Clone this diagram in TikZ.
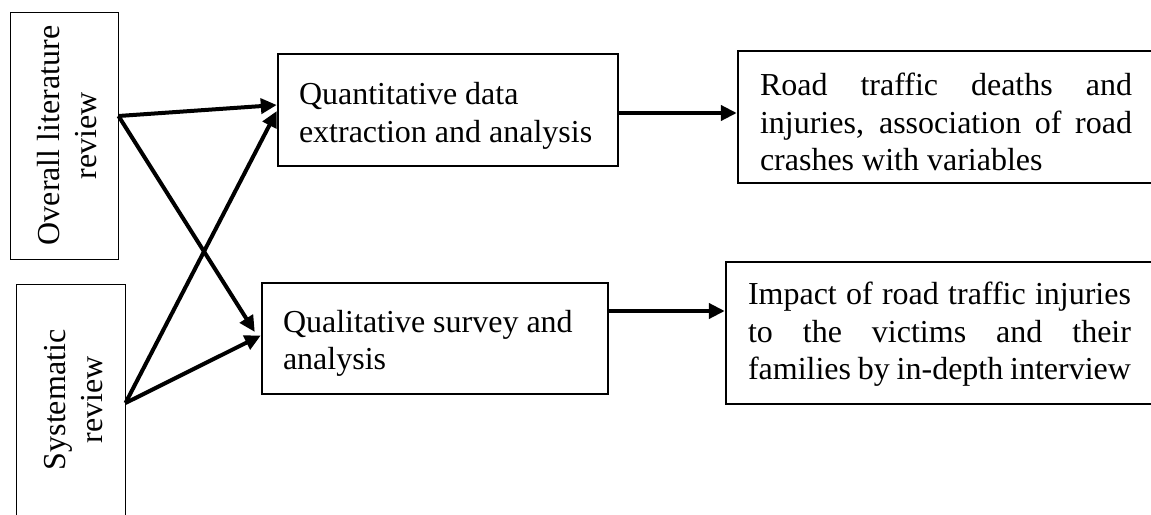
\documentclass[tikz,border=0pt]{standalone}
\usepackage{fontspec}
\setmainfont{Liberation Serif}
\usetikzlibrary{arrows.meta,calc}
\newcommand{\lowerby}[2]{\raisebox{-#1}[\height][\depth]{#2}}
\begin{document}
\begin{tikzpicture}[x=1pt,y=-1pt,
  txt/.style={font=\fontsize{32}{37.5}\selectfont},
  thinbox/.style={draw,line width=1pt,inner sep=0pt,align=center,txt,rotate=90},
  thickbox/.style={draw,line width=2.4pt,inner sep=0pt,txt},
  arr/.style={line width=4pt,-{Triangle[length=16pt,width=15pt]}}]
\useasboundingbox (0,0) rectangle (1151,514);
\clip (0,0) rectangle (1151,514);
\fill[white] (0,0) rectangle (1151,514);
% left boxes
\node[thinbox,minimum width=247pt,minimum height=108pt] (A) at (64,135.5) {\lowerby{3pt}{\parbox{240pt}{\centering Overall literature\\review}}};
\node[thinbox,minimum width=232pt,minimum height=109pt] (B) at (70.5,400) {\lowerby{3pt}{\parbox{220pt}{\centering Systematic\\review}}};
% middle boxes
\node[thickbox,minimum width=340pt,minimum height=112pt] (C) at (448,110)
  {\lowerby{6pt}{\parbox{298pt}{\raggedright Quantitative data\\extraction and analysis}}};
\node[thickbox,minimum width=346pt,minimum height=111pt] (D) at (435,338.5)
  {\lowerby{5pt}{\parbox{304pt}{\raggedright Qualitative survey and\\analysis}}};
% right boxes
\node[thickbox,minimum width=416pt,minimum height=132pt] (E) at (946,117)
  {\lowerby{5pt}{\parbox{372pt}{Road traffic deaths and\linebreak injuries, association of road\linebreak crashes with variables}}};
\node[thickbox,minimum width=427pt,minimum height=142pt] (F) at (939.5,333)
  {\lowerby{1.5pt}{\parbox{383pt}{Impact of road traffic injuries\linebreak to the victims and their\linebreak families by in-depth interview}}};
% connectors
\draw[arr] ([yshift=19.5pt]A.south) -- ([yshift=5pt]C.west);
\draw[arr] ([yshift=19.5pt]A.south) -- ([xshift=-6pt,yshift=6.5pt]D.west);
\draw[arr] ([yshift=-3pt]B.south) -- ([yshift=-1pt]C.west);
\draw[arr] ([yshift=-3pt]B.south) -- ([yshift=3pt]D.west);
\draw[arr] ([yshift=-3pt]C.east) -- ([yshift=-3pt]C.east -| E.west);
\draw[arr] ([yshift=27.5pt]D.east) -- ([yshift=27.5pt]D.east -| F.west);
\end{tikzpicture}
\end{document}
